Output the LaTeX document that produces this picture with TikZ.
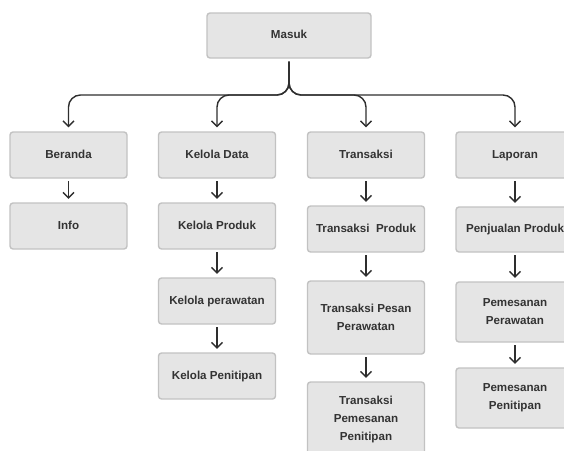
\documentclass[tikz,border=0pt]{standalone}
\usepackage{fontspec}
\setmainfont{Liberation Sans}
\usetikzlibrary{arrows.meta}
\definecolor{boxfill}{HTML}{E5E5E5}
\definecolor{boxline}{HTML}{C2C2C2}
\definecolor{txt}{HTML}{333333}
\definecolor{conncol}{HTML}{2E2E2E}
\tikzset{
  box/.style={draw=boxline, line width=1.4pt, fill=boxfill, rounded corners=3pt,
    minimum width=117pt, minimum height=46pt, inner sep=0pt, align=center,
    text=txt, font=\fontsize{11.6}{18}\selectfont\bfseries},
  onebox/.style={box, text height=8.6pt, text depth=2.4pt},
  conn/.style={draw=conncol, line width=1.4pt, -{Straight Barb[length=5.5pt,width=11pt,line width=1.4pt]},
    shorten <=2.5pt, shorten >=3.5pt},
  branch/.style={conn, rounded corners=12pt, shorten <=3pt, shorten >=4pt}
}
\begin{document}
\begin{tikzpicture}[x=1pt,y=1pt]
\useasboundingbox (0,0) rectangle (564,-450);
% level 0
\node[onebox, minimum width=164pt, minimum height=45pt] (masuk) at (289,-35.5) {Masuk};
% level 1
\node[onebox] (beranda) at (68.5,-155) {Beranda};
\node[onebox] (kelola) at (217,-155) {Kelola Data};
\node[onebox] (transaksi) at (366,-155) {Transaksi};
\node[onebox, minimum width=118pt] (laporan) at (515,-155) {Laporan};
% column 1
\node[onebox] (info) at (68.5,-226) {Info};
% column 2
\node[onebox] (kproduk) at (217,-226) {Kelola Produk};
\node[onebox] (kperawatan) at (217,-301) {Kelola perawatan};
\node[onebox] (kpenitipan) at (217,-376) {Kelola Penitipan};
% column 3
\node[onebox] (tproduk) at (366,-229) {Transaksi~ Produk};
\node[box, minimum height=73pt] (tpesan) at (366,-317.5) {Transaksi Pesan\\Perawatan};
\node[box, minimum height=74pt] (tpemesanan) at (366,-419) {Transaksi\\Pemesanan\\Penitipan};
% column 4
\node[onebox, minimum width=118pt, minimum height=45pt] (pproduk) at (515,-229.5) {Penjualan Produk};
\node[box, minimum width=118pt, minimum height=60pt] (pperawatan) at (515,-312) {Pemesanan\\Perawatan};
\node[box, minimum width=118pt, minimum height=60pt] (ppenitipan) at (515,-398) {Pemesanan\\Penitipan};
% junction
\coordinate (hbar) at (289,-95);
\foreach \t in {beranda,kelola,transaksi,laporan}{
  \draw[branch] (masuk.south) -- (masuk.south |- hbar) -- (\t.north |- hbar) -- (\t.north);
}
% vertical arrows
\draw[conn] (beranda) -- (info);
\draw[conn] (kelola) -- (kproduk);
\draw[conn] (kproduk) -- (kperawatan);
\draw[conn] (kperawatan) -- (kpenitipan);
\draw[conn] (transaksi) -- (tproduk);
\draw[conn] (tproduk) -- (tpesan);
\draw[conn] (tpesan) -- (tpemesanan);
\draw[conn] (laporan) -- (pproduk);
\draw[conn] (pproduk) -- (pperawatan);
\draw[conn] (pperawatan) -- (ppenitipan);
\end{tikzpicture}
\end{document}
